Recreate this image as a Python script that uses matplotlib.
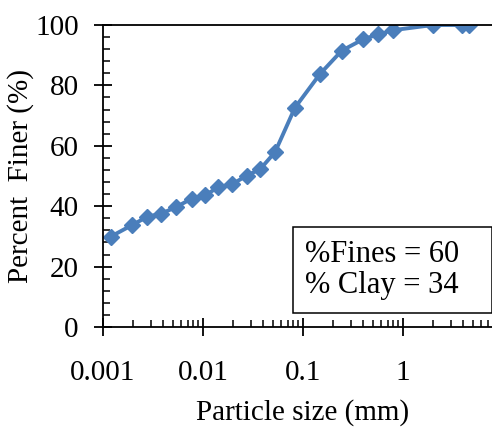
import matplotlib
matplotlib.use("Agg")
import matplotlib.pyplot as plt
from matplotlib.patches import Rectangle
from matplotlib.ticker import MultipleLocator, LogLocator, NullFormatter, FixedLocator

# grain size distribution
size_mm = [0.00119, 0.00194, 0.00277, 0.0038, 0.00537, 0.0077, 0.0105, 0.0142,
           0.0196, 0.0273, 0.0374, 0.0525, 0.083, 0.148, 0.244, 0.401, 0.566,
           0.80, 2.0, 3.86, 4.57]
pct_finer = [29.9, 33.7, 36.5, 37.5, 39.7, 42.5, 43.6, 46.3, 47.3, 50.1, 52.3,
             57.9, 72.6, 83.8, 91.5, 95.3, 96.9, 98.3, 100, 100, 100]
x_ticks = [0.001, 0.01, 0.1, 1]
x_ticklabels = ["0.001", "0.01", "0.1", "1"]
box_lines = ["%Fines = 60", "% Clay = 34"]

plt.rcParams['font.family'] = ['Liberation Serif', 'DejaVu Serif']
plt.rcParams['font.size'] = 21

fig = plt.figure(figsize=(4.92, 4.28), dpi=100)
ax = fig.add_axes([103 / 492, 101 / 428, 400 / 492, 302 / 428])

ax.plot(size_mm, pct_finer, color='#4a7ebb', linewidth=2.8,
        marker='D', markersize=8)

ax.set_xscale('log')
ax.set_xlim(0.001, 10)
ax.set_ylim(0, 100)
ax.xaxis.set_major_locator(FixedLocator(x_ticks))
ax.set_xticklabels(x_ticklabels)
ax.xaxis.set_minor_locator(LogLocator(base=10, subs=range(2, 10), numticks=20))
ax.xaxis.set_minor_formatter(NullFormatter())
ax.yaxis.set_major_locator(MultipleLocator(20))
ax.yaxis.set_minor_locator(MultipleLocator(4))

ax.tick_params(which='major', direction='inout', length=13, width=1.3, pad=11)
ax.tick_params(which='minor', direction='in', length=5, width=1.1)
ax.tick_params(axis='x', which='major', pad=17)

ax.spines['right'].set_visible(False)
for s in ['left', 'bottom', 'top']:
    ax.spines[s].set_linewidth(1.3)

ax.set_xlabel("Particle size (mm)", labelpad=10)
ax.set_ylabel("Percent  Finer (%)", labelpad=1)

# annotation box
ax.add_patch(Rectangle((0.475, 0.046), 0.4975, 0.285, transform=ax.transAxes,
                       facecolor='white', edgecolor='black', linewidth=1.1,
                       zorder=3))
ax.text(0.505, 0.215, box_lines[0], transform=ax.transAxes, ha='left',
        va='baseline', fontsize=22, zorder=4)
ax.text(0.505, 0.113, box_lines[1], transform=ax.transAxes, ha='left',
        va='baseline', fontsize=22, zorder=4)

fig.savefig("out.png", dpi=100)
